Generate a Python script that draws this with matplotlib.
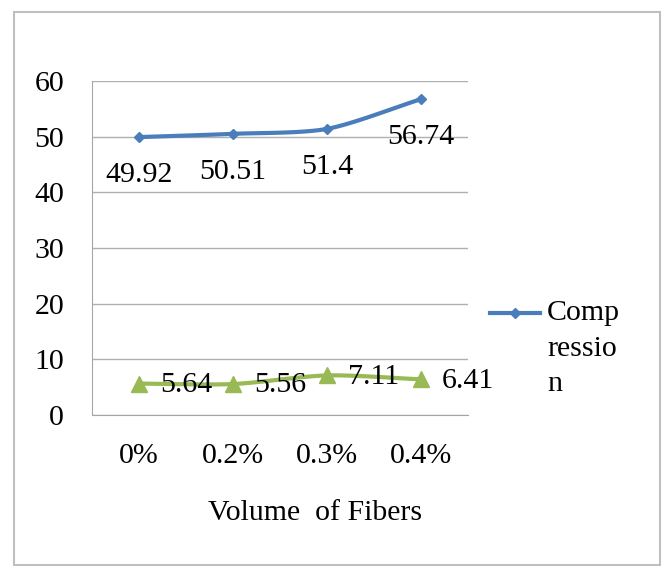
import numpy as np
import matplotlib
matplotlib.use("Agg")
import matplotlib.pyplot as plt
from matplotlib.patches import Rectangle

categories = ["0%", "0.2%", "0.3%", "0.4%"]
compression = [49.92, 50.51, 51.4, 56.74]
tension = [5.64, 5.56, 7.11, 6.41]
yticks = [0, 10, 20, 30, 40, 50, 60]

plt.rcParams['font.family'] = ['Liberation Serif', 'DejaVu Serif']

def smooth(x, y, n=30, k=0.8):
    x = np.asarray(x, float); y = np.asarray(y, float)
    px = np.concatenate([[2*x[0]-x[1]], x, [2*x[-1]-x[-2]]])
    py = np.concatenate([[2*y[0]-y[1]], y, [2*y[-1]-y[-2]]])
    xs, ys = [], []
    t = np.linspace(0, 1, n)
    for i in range(1, len(px)-2):
        for arr, out in ((px, xs), (py, ys)):
            p0, p1, p2, p3 = arr[i-1], arr[i], arr[i+1], arr[i+2]
            c1 = p1 + k*(p2-p0)/6
            c2 = p2 - k*(p3-p1)/6
            out.extend((1-t)**3*p1 + 3*(1-t)**2*t*c1 + 3*(1-t)*t**2*c2 + t**3*p2)
    return np.array(xs), np.array(ys)

fig = plt.figure(figsize=(6.67, 5.69), dpi=100)
ax = fig.add_axes([92/667, 1-415/569, (468-92)/667, (415-81)/569])

x = np.arange(len(categories))
blue = "#4A7EBB"
green = "#98B954"

sx, sy = smooth(x, compression)
ax.plot(sx, sy, color=blue, lw=3, solid_capstyle='round', zorder=3)
ax.plot(x, compression, ls='none', marker='D', ms=5, color=blue, zorder=4)
tx, ty = smooth(x, tension)
ax.plot(tx, ty, color=green, lw=3, solid_capstyle='round', zorder=3)
ax.plot(x, tension, ls='none', marker='^', ms=12, color=green, zorder=4)

fs = 21.5
for xi, v in zip(x, compression):
    ax.annotate(f"{v:g}", (xi, v), xytext=(0, -18), textcoords='offset points',
                ha='center', va='top', fontsize=fs, zorder=5)
for xi, v in zip(x, tension):
    ax.annotate(f"{v:g}", (xi, v), xytext=(15, -1), textcoords='offset points',
                ha='left', va='center', fontsize=fs, zorder=5)

ax.set_xlim(-0.5, 3.5)
ax.set_ylim(0, 60)
ax.set_yticks(yticks)
ax.set_xticks(x)
ax.set_xticklabels(categories)
ax.tick_params(axis='both', length=0, labelsize=fs)
ax.tick_params(axis='y', pad=20)
ax.tick_params(axis='x', pad=20)
ax.grid(axis='y', color='#B0B0B0', lw=1)
ax.set_axisbelow(True)
for s in ['top', 'right']:
    ax.spines[s].set_visible(False)
ax.spines['left'].set_color('#A6A6A6')
ax.spines['bottom'].set_color('#A6A6A6')

fig.text(315/667, 1-513/569, "Volume  of Fibers", fontsize=fs, ha='center', va='center')

# legend
fig.lines.append(plt.Line2D([490/667, 540/667], [1-313/569, 1-313/569], color=blue, lw=3,
                            transform=fig.transFigure))
fig.lines.append(plt.Line2D([515/667], [1-313/569], color=blue, marker='D', ms=5,
                            transform=fig.transFigure))
for i, line in enumerate(["Comp", "ressio", "n"]):
    fig.text(547/667, 1-(313+35.5*i)/569, line, fontsize=fs, ha='left', va='center')

fig.patches.append(Rectangle((14/667, 1-565/569), (660-14)/667, (565-12)/569,
                             transform=fig.transFigure, fill=False, edgecolor='#BFBFBF', lw=1.5))

fig.savefig("out.png", dpi=100)
